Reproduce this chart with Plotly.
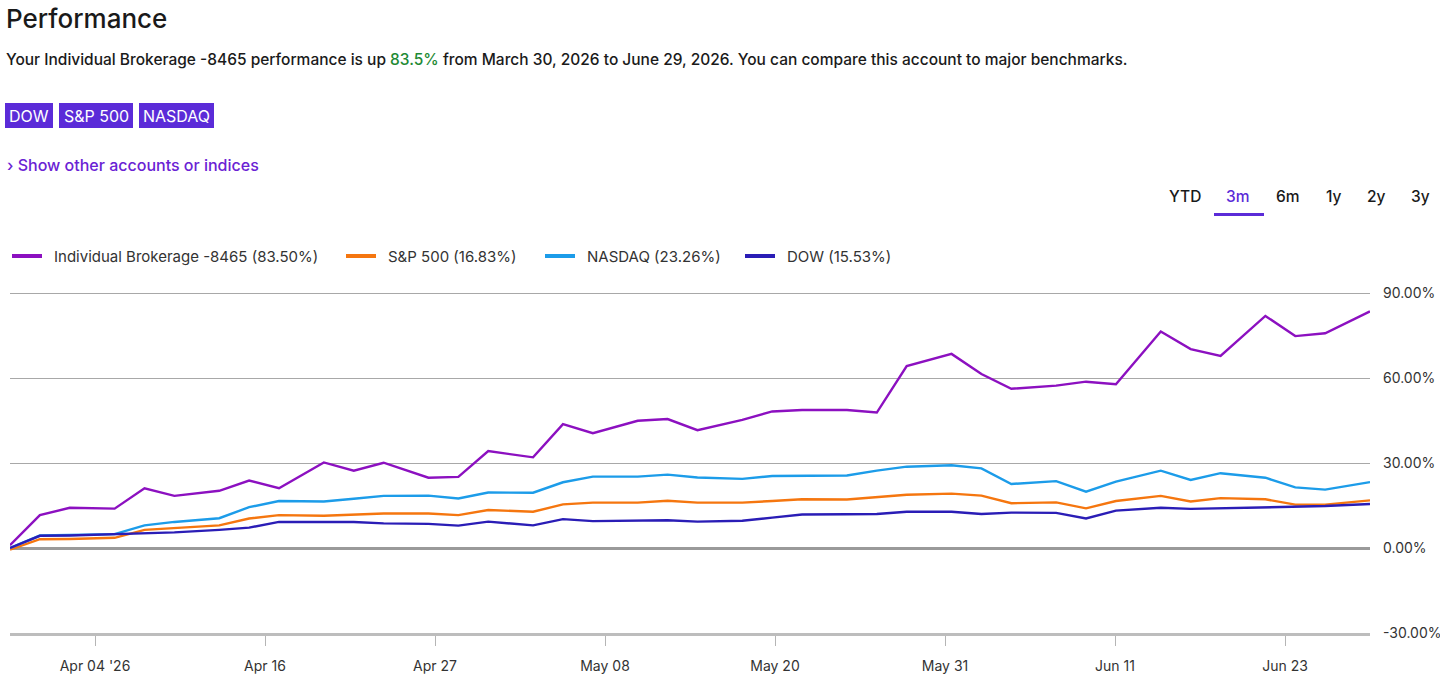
import pandas as pd
import plotly.graph_objects as go

# ---------------- data ----------------
dates = [
    "2026-03-30", "2026-04-01", "2026-04-03", "2026-04-06", "2026-04-08", "2026-04-10",
    "2026-04-13", "2026-04-15", "2026-04-17", "2026-04-20", "2026-04-22", "2026-04-24",
    "2026-04-27", "2026-04-29", "2026-05-01", "2026-05-04", "2026-05-06", "2026-05-08",
    "2026-05-11", "2026-05-13", "2026-05-15", "2026-05-18", "2026-05-20", "2026-05-22",
    "2026-05-25", "2026-05-27", "2026-05-29", "2026-06-01", "2026-06-03", "2026-06-05",
    "2026-06-08", "2026-06-10", "2026-06-12", "2026-06-15", "2026-06-17", "2026-06-19",
    "2026-06-22", "2026-06-24", "2026-06-26", "2026-06-29",
]

brokerage = [1.0, 11.6, 14.2, 13.9, 21.1, 18.4, 20.2, 23.8, 21.1, 30.2,
             27.3, 30.1, 24.8, 25.1, 34.2, 32.0, 43.7, 40.5, 44.9, 45.5,
             41.6, 45.2, 48.2, 48.7, 48.7, 47.8, 64.2, 68.5, 61.4, 56.2,
             57.3, 58.7, 57.8, 76.4, 70.2, 67.8, 81.9, 74.8, 75.8, 83.5]

sp500 = [-0.6, 3.1, 3.2, 3.6, 6.4, 7.0, 8.0, 10.4, 11.6, 11.4,
         11.9, 12.2, 12.2, 11.6, 13.4, 12.8, 15.4, 16.0, 16.0, 16.7,
         16.0, 16.0, 16.6, 17.2, 17.1, 18.0, 18.8, 19.2, 18.5, 15.8,
         16.1, 14.0, 16.6, 18.4, 16.4, 17.6, 17.2, 15.3, 15.3, 16.83]

nasdaq = [0.0, 4.4, 4.6, 4.9, 8.0, 9.2, 10.5, 14.4, 16.6, 16.4,
          17.4, 18.4, 18.5, 17.5, 19.6, 19.5, 23.2, 25.2, 25.2, 25.9,
          24.9, 24.4, 25.4, 25.5, 25.6, 27.3, 28.7, 29.2, 28.1, 22.6,
          23.6, 19.9, 23.4, 27.3, 24.0, 26.4, 24.8, 21.4, 20.6, 23.26]

dow = [0.0, 4.3, 4.4, 4.8, 5.2, 5.5, 6.4, 7.2, 9.2, 9.2,
       9.2, 8.7, 8.5, 7.9, 9.3, 8.0, 10.2, 9.5, 9.8, 9.8,
       9.3, 9.6, 10.7, 11.8, 11.9, 12.0, 12.8, 12.8, 12.0, 12.5,
       12.4, 10.4, 13.2, 14.2, 13.8, 14.0, 14.5, 14.7, 14.8, 15.53]

series_names = ["Individual Brokerage -8465 (83.50%)", "S&P 500 (16.83%)",
                "NASDAQ (23.26%)", "DOW (15.53%)"]
series_colors = ["#8c10c0", "#f5760f", "#1c9ce9", "#2a1db6"]

x_tick_labels = ["Apr 04 '26", "Apr 16", "Apr 27", "May 08", "May 20", "May 31", "Jun 11", "Jun 23"]
y_tick_values = [-30, 0, 30, 60, 90]
y_tick_labels = ["-30.00%", "0.00%", "30.00%", "60.00%", "90.00%"]
range_buttons = ["YTD", "3m", "6m", "1y", "2y", "3y"]
index_chips = ["DOW", "S&P 500", "NASDAQ"]

# ---------------- figure ----------------
W, H = 1440, 687
# plot area in pixels (top extended a few px so the 90% gridline is not on the edge)
PL, PR, PT, PB = 10, 1370, 289, 633
Y_MIN, Y_TOP_GRID = -30, 90
units_per_px = (Y_TOP_GRID - Y_MIN) / (633 - 293)
Y_MAX = Y_TOP_GRID + (293 - PT) * units_per_px


def px(x):
    return (x - PL) / (PR - PL)


def py(y):
    return (PB - y) / (PB - PT)


FONT = "Inter, Roboto, Arial, sans-serif"
PURPLE = "#5b2bd8"

fig = go.Figure()
for vals, name, col in zip([brokerage, sp500, nasdaq, dow], series_names, series_colors):
    fig.add_trace(go.Scatter(x=dates, y=vals, mode="lines", name=name,
                             line=dict(color=col, width=2.4), showlegend=False))

start = pd.Timestamp(dates[0])
end = pd.Timestamp(dates[-1])
step = (end - start) / len(x_tick_labels)
tickvals = [start + step * (k + 0.5) for k in range(len(x_tick_labels))]

annotations = []
shapes = []

# title & subtitle
annotations.append(dict(x=px(4), y=py(18), xref="paper", yref="paper", xanchor="left",
                        yanchor="middle", showarrow=False, text="Performance",
                        font=dict(family=FONT, size=26, color="#1a1a1a", weight=500)))
annotations.append(dict(
    x=px(4), y=py(60), xref="paper", yref="paper", xanchor="left", yanchor="middle",
    showarrow=False,
    text=("Your Individual Brokerage -8465 performance is up "
          "<span style='color:#1e8a34'>83.5%</span> from March 30, 2026 to June 29, 2026. "
          "You can compare this account to major benchmarks."),
    font=dict(family=FONT, size=15.5, color="#1a1a1a", weight=500)))

# index chips
chip_boxes = [(5, 53), (59, 133), (139, 214)]
for label, (x0, x1) in zip(index_chips, chip_boxes):
    shapes.append(dict(type="rect", xref="paper", yref="paper", x0=px(x0), x1=px(x1),
                       y0=py(128), y1=py(103), fillcolor=PURPLE, line=dict(width=0)))
    annotations.append(dict(x=px((x0 + x1) / 2), y=py(116), xref="paper", yref="paper",
                            xanchor="center", yanchor="middle", showarrow=False, text=label,
                            font=dict(family=FONT, size=16, color="white")))

annotations.append(dict(x=px(5), y=py(165), xref="paper", yref="paper", xanchor="left",
                        yanchor="middle", showarrow=False,
                        text="› Show other accounts or indices",
                        font=dict(family=FONT, size=16, color="#6a22d4", weight=500)))

# range buttons
btn_centers = [1185, 1238, 1288, 1334, 1376, 1420]
for label, cx in zip(range_buttons, btn_centers):
    annotations.append(dict(x=px(cx), y=py(196), xref="paper", yref="paper",
                            xanchor="center", yanchor="middle", showarrow=False, text=label,
                            font=dict(family=FONT, size=15.5,
                                      color=PURPLE if label == "3m" else "#1a1a1a", weight=500)))
shapes.append(dict(type="rect", xref="paper", yref="paper", x0=px(1214), x1=px(1264),
                   y0=py(216), y1=py(213), fillcolor=PURPLE, line=dict(width=0)))

# legend (drawn as swatch + label per series)
legend_x = [12, 346, 545, 745]
for name, col, lx in zip(series_names, series_colors, legend_x):
    shapes.append(dict(type="line", xref="paper", yref="paper", x0=px(lx), x1=px(lx + 30),
                       y0=py(256), y1=py(256), line=dict(color=col, width=4)))
    annotations.append(dict(x=px(lx + 40), y=py(256), xref="paper", yref="paper",
                            xanchor="left", yanchor="middle", showarrow=False, text=name,
                            font=dict(family=FONT, size=15, color="#333333")))

fig.update_layout(
    width=W, height=H,
    margin=dict(l=PL, r=W - PR, t=PT, b=H - PB, pad=0, autoexpand=False),
    paper_bgcolor="white", plot_bgcolor="white",
    font=dict(family=FONT, size=14, color="#333333"),
    showlegend=False,
    annotations=annotations, shapes=shapes,
    xaxis=dict(type="date", range=[dates[0], dates[-1]], tickvals=tickvals,
               ticktext=x_tick_labels, ticks="outside", ticklen=10, tickwidth=1,
               tickcolor="#b5b5b5", showgrid=False, showline=True, linecolor="#bdbdbd",
               linewidth=3, zeroline=False, ticklabelstandoff=8, automargin=False,
               tickfont=dict(family=FONT, size=14, color="#333333")),
    yaxis=dict(range=[Y_MIN, Y_MAX], tickvals=y_tick_values, ticktext=y_tick_labels,
               side="right", showgrid=True, gridcolor="#a8a8a8",
               gridwidth=1, zeroline=True, zerolinecolor="#9a9a9a", zerolinewidth=3,
               ticks="", ticklabelstandoff=12, showline=False, automargin=False,
               tickfont=dict(family=FONT, size=14, color="#333333")),
)

fig.write_html("out.html")
